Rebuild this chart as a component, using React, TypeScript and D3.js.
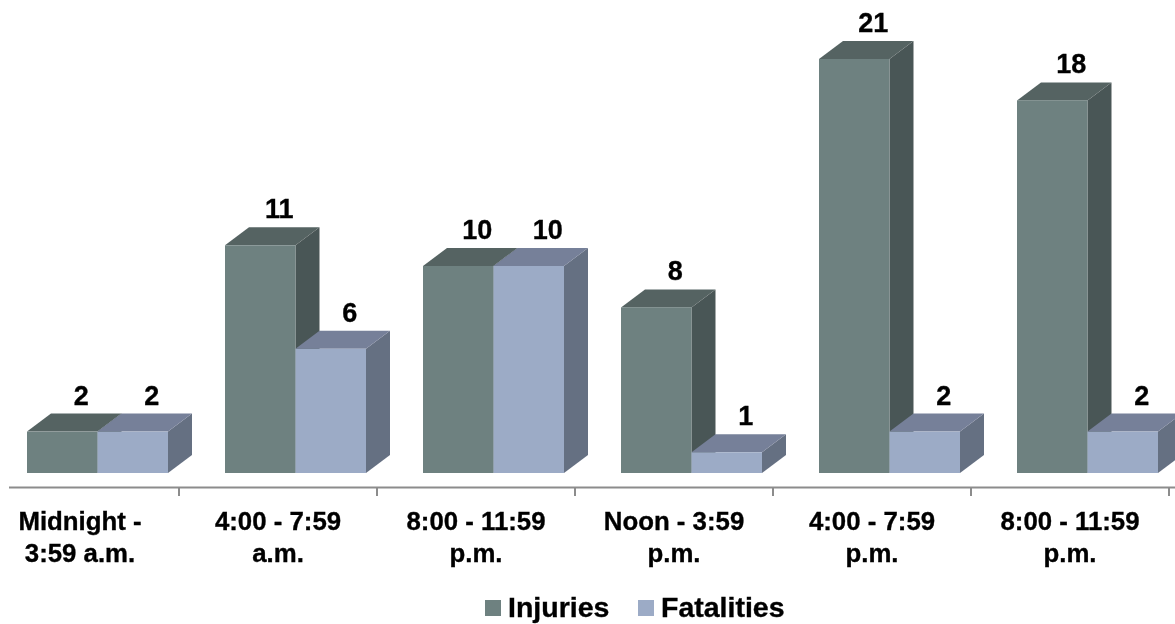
import React from "react";
import * as d3 from "d3";

const categories = [
  ["Midnight -", "3:59 a.m."],
  ["4:00 - 7:59", "a.m."],
  ["8:00 - 11:59", "p.m."],
  ["Noon - 3:59", "p.m."],
  ["4:00 - 7:59", "p.m."],
  ["8:00 - 11:59", "p.m."],
];
const seriesNames = ["Injuries", "Fatalities"];
// Bar heights as drawn in the picture (the 21 column is drawn at about 20).
const injuryHeights = [2, 11, 10, 8, 20, 18];
const fatalityHeights = [2, 6, 10, 1, 2, 2];
// Values as printed on the bars.
const injuryLabels = [2, 11, 10, 8, 21, 18];
const fatalityLabels = [2, 6, 10, 1, 2, 2];

const palette = [
  { front: "#6e8180", side: "#4a5656", top: "#556362" },
  { front: "#9cabc6", side: "#656f82", top: "#768099" },
];

const FONT = "'Liberation Sans', Arial, sans-serif";
const W = 1175;
const H = 624;
const BASE = 473;
const DX = 24;
const DY = 18;

const x0 = d3.scaleBand<number>().domain(d3.range(6)).range([-19, 1169]);
const x1 = d3.scaleBand<number>().domain([0, 1]).range([46, 187]);
const y = d3.scaleLinear().domain([0, 20]).range([BASE, 59]);

function Bar({ gi, si, v }: { gi: number; si: number; v: number }) {
  const c = palette[si];
  const l = x0(gi)! + x1(si)!;
  const r = l + x1.bandwidth();
  const t = y(v);
  const top = `M${l},${t}L${l + DX},${t - DY}L${r + DX},${t - DY}L${r},${t}Z`;
  const side = `M${r},${t}L${r + DX},${t - DY}L${r + DX},${BASE - DY}L${r},${BASE}Z`;
  return (
    <g>
      <path d={side} fill={c.side} />
      <path d={top} fill={c.top} />
      <rect x={l} y={t} width={r - l} height={BASE - t} fill={c.front} />
    </g>
  );
}

export default function App() {
  const ticks = d3.range(1, 7).map((i) => -19 + x0.step() * i);
  const order: { gi: number; si: number }[] = [];
  d3.range(6).forEach((gi) => [0, 1].forEach((si) => order.push({ gi, si })));
  const heights = [injuryHeights, fatalityHeights];
  const labels = [injuryLabels, fatalityLabels];
  const textStyle = { stroke: "#000", strokeWidth: 0.35 };
  return (
    <svg
      width={W}
      height={H}
      viewBox={`0 0 ${W} ${H}`}
      style={{ position: "absolute", left: 0, top: 0, background: "#fff" }}
    >
      <defs>
        <filter id="soft" x="-2%" y="-2%" width="104%" height="104%">
          <feGaussianBlur stdDeviation="0.4" />
        </filter>
      </defs>
      <g filter="url(#soft)">
        {order.map(({ gi, si }) => (
          <Bar key={`${gi}-${si}`} gi={gi} si={si} v={heights[si][gi]} />
        ))}
        {order.map(({ gi, si }) => (
          <text
            key={`${gi}-${si}`}
            x={x0(gi)! + x1(si)! + x1.bandwidth() / 2 + 19}
            y={y(heights[si][gi]) - DY - 9}
            textAnchor="middle"
            fontFamily={FONT}
            fontWeight="bold"
            fontSize={27}
            fill="#000"
            style={textStyle}
          >
            {labels[si][gi]}
          </text>
        ))}
        <line x1={9} x2={1175} y1={487.5} y2={487.5} stroke="#8c8c8c" strokeWidth={2} />
        {ticks.map((t) => (
          <line key={t} x1={t} x2={t} y1={487} y2={496} stroke="#8c8c8c" strokeWidth={2} />
        ))}
        {categories.map((lines, i) => (
          <text
            key={i}
            textAnchor="middle"
            fontFamily={FONT}
            fontWeight="bold"
            fontSize={25.8}
            fill="#000"
            style={textStyle}
          >
            {lines.map((s, j) => (
              <tspan key={j} x={x0(i)! + x0.bandwidth() / 2} y={530 + j * 31.5}>
                {s}
              </tspan>
            ))}
          </text>
        ))}
        <rect x={485} y={600} width={16} height={16} fill={palette[0].front} />
        <text x={508} y={617} fontFamily={FONT} fontWeight="bold" fontSize={28.5} fill="#000" style={textStyle}>
          {seriesNames[0]}
        </text>
        <rect x={638} y={600} width={16} height={16} fill={palette[1].front} />
        <text x={661} y={617} fontFamily={FONT} fontWeight="bold" fontSize={28.5} fill="#000" style={textStyle}>
          {seriesNames[1]}
        </text>
      </g>
    </svg>
  );
}
